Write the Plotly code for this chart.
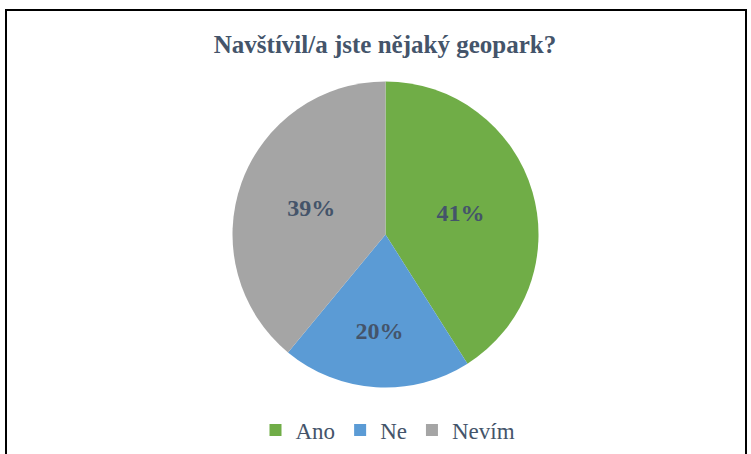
import plotly.graph_objects as go

labels = ["Ano", "Ne", "Nevím"]
values = [41, 20, 39]
colors = ["#70AD47", "#5B9BD5", "#A5A5A5"]
title_text = "Navštívil/a jste nějaký geopark?"

W, H = 751, 454
text_color = "#44546A"
serif = "Liberation Serif, Times New Roman, serif"

fig = go.Figure(go.Pie(
    labels=labels,
    values=values,
    sort=False,
    direction="clockwise",
    rotation=0,
    marker=dict(colors=colors, line=dict(width=0)),
    texttemplate="<b>%{percent:.0%}</b>",
    textposition="inside",
    insidetextorientation="horizontal",
    textfont=dict(family=serif, size=24, color=text_color),
    domain=dict(x=[232.5 / W, 538.5 / W], y=[1 - 387.5 / H, 1 - 81.5 / H]),
    hoverinfo="label+percent",
))

fig.update_layout(
    width=W, height=H,
    margin=dict(l=0, r=0, t=0, b=0),
    paper_bgcolor="white",
    plot_bgcolor="white",
    title=dict(
        text="<b>" + title_text + "</b>",
        x=385 / W, xanchor="center",
        y=1 - 44 / H, yanchor="middle",
        font=dict(family=serif, size=25, color=text_color),
    ),
    legend=dict(
        orientation="h",
        x=388 / W, xanchor="center",
        y=1 - 430 / H, yanchor="middle",
        font=dict(family=serif, size=23, color=text_color),
        itemwidth=30,
    ),
    shapes=[dict(
        type="rect", xref="paper", yref="paper",
        x0=6 / W, x1=746 / W, y0=-0.2, y1=1 - 10 / H,
        line=dict(color="black", width=2), fillcolor="rgba(0,0,0,0)",
    )],
)

fig.write_html(
    "out.html",
    config={"displayModeBar": False},
    post_script="document.body.style.margin='0';",
)
